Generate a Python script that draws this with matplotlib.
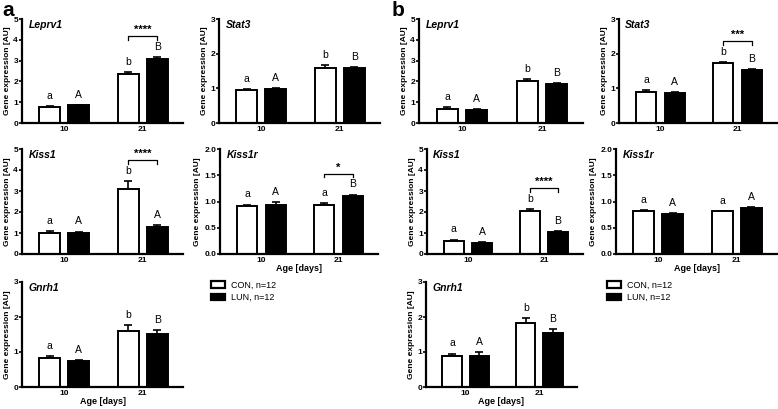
import numpy as np
import matplotlib
matplotlib.use("Agg")
import matplotlib.pyplot as plt
from matplotlib.patches import Patch

plt.rcParams['font.family'] = ['Liberation Sans', 'DejaVu Sans']

# data: [CON10, LUN10, CON21, LUN21]
genes = ["Leprv1", "Stat3", "Kiss1", "Kiss1r", "Gnrh1"]
ymax = {"Leprv1": 5, "Stat3": 3, "Kiss1": 5, "Kiss1r": 2.0, "Gnrh1": 3}

a_mean = {"Leprv1": [0.78, 0.85, 2.35, 3.10],
          "Stat3": [0.96, 0.99, 1.60, 1.58],
          "Kiss1": [0.98, 1.01, 3.08, 1.27],
          "Kiss1r": [0.91, 0.93, 0.94, 1.11],
          "Gnrh1": [0.84, 0.73, 1.59, 1.52]}
a_err = {"Leprv1": [0.03, 0.02, 0.08, 0.07],
         "Stat3": [0.02, 0.02, 0.08, 0.03],
         "Kiss1": [0.12, 0.06, 0.38, 0.09],
         "Kiss1r": [0.03, 0.06, 0.03, 0.02],
         "Gnrh1": [0.04, 0.03, 0.17, 0.10]}
a_letters = {"Leprv1": ["a", "A", "b", "B"],
             "Stat3": ["a", "A", "b", "B"],
             "Kiss1": ["a", "A", "b", "A"],
             "Kiss1r": ["a", "A", "a", "B"],
             "Gnrh1": ["a", "A", "b", "B"]}
a_sig = {"Leprv1": "****", "Kiss1": "****", "Kiss1r": "*"}

b_mean = {"Leprv1": [0.69, 0.64, 2.03, 1.88],
          "Stat3": [0.90, 0.86, 1.73, 1.53],
          "Kiss1": [0.63, 0.52, 2.06, 1.03],
          "Kiss1r": [0.82, 0.76, 0.81, 0.87],
          "Gnrh1": [0.88, 0.90, 1.84, 1.54]}
b_err = {"Leprv1": [0.06, 0.02, 0.09, 0.05],
         "Stat3": [0.04, 0.02, 0.03, 0.02],
         "Kiss1": [0.05, 0.03, 0.09, 0.05],
         "Kiss1r": [0.02, 0.02, 0.01, 0.02],
         "Gnrh1": [0.07, 0.10, 0.13, 0.11]}
b_letters = {"Leprv1": ["a", "A", "b", "B"],
             "Stat3": ["a", "A", "b", "B"],
             "Kiss1": ["a", "A", "b", "B"],
             "Kiss1r": ["a", "A", "a", "A"],
             "Gnrh1": ["a", "A", "b", "B"]}
b_sig = {"Stat3": "***", "Kiss1": "****"}

groups = ["10", "21"]
legend_labels = ["CON, n=12", "LUN, n=12"]

W, H = 778, 409
fig = plt.figure(figsize=(W / 100, H / 100), dpi=100)

# pixel boxes (left, top, right, bottom)
boxes_a = {"Leprv1": (22, 19, 183, 123), "Stat3": (219, 19, 380, 123),
           "Kiss1": (22, 149, 183, 254), "Kiss1r": (220, 149, 378, 254),
           "Gnrh1": (22, 282, 183, 387)}
boxes_b = {"Leprv1": (419, 19, 583, 123), "Stat3": (619, 19, 777, 123),
           "Kiss1": (427, 149, 583, 254), "Kiss1r": (616, 149, 777, 254),
           "Gnrh1": (426, 282, 577, 387)}

xpos = np.array([0.172, 0.353, 0.66, 0.84])
bw = 0.129


def panel(box, gene, mean, err, letters, sig, xlabel):
    l, t, r, b = box
    ax = fig.add_axes([l / W, 1 - b / H, (r - l) / W, (b - t) / H])
    top = ymax[gene]
    cols = ["white", "black", "white", "black"]
    ax.bar(xpos, mean, width=bw, color=cols, edgecolor="black", linewidth=1.4, zorder=2)
    ax.errorbar(xpos, mean, yerr=[np.zeros(4), err], fmt="none", ecolor="black",
                elinewidth=1.2, capsize=2.6, capthick=1.2, zorder=1)
    for x, m, e, s in zip(xpos, mean, err, letters):
        ax.text(x, m + e + top * 0.05, s, ha="center", va="bottom", fontsize=7.5)
    if sig:
        y0 = max(np.array(mean[2:]) + np.array(err[2:])) + top * 0.2
        d = top * 0.035
        ax.plot([xpos[2], xpos[2], xpos[3], xpos[3]], [y0 - d, y0, y0, y0 - d],
                color="black", lw=0.9, clip_on=False)
        ax.text((xpos[2] + xpos[3]) / 2, y0 + top * 0.01, sig, ha="center", va="bottom",
                fontsize=8, fontweight="bold")
    ax.set_xlim(0, 1)
    ax.set_ylim(0, top)
    if top == 2.0:
        ax.set_yticks([0, 0.5, 1.0, 1.5, 2.0])
        ax.set_yticklabels(["0.0", "0.5", "1.0", "1.5", "2.0"])
    else:
        ax.set_yticks(range(0, top + 1))
    ax.set_xticks([(xpos[0] + xpos[1]) / 2, (xpos[2] + xpos[3]) / 2])
    ax.set_xticklabels(groups)
    ax.tick_params(axis="x", length=0, pad=2.5, labelsize=6)
    ax.tick_params(axis="y", length=2, width=1.2, pad=0.8, labelsize=6)
    for lab in ax.get_xticklabels() + ax.get_yticklabels():
        lab.set_fontweight("bold")
    for sp in ["top", "right"]:
        ax.spines[sp].set_visible(False)
    for sp in ["left", "bottom"]:
        ax.spines[sp].set_linewidth(1.6)
    ax.set_ylabel("Gene expression [AU]", fontsize=6, fontweight="bold", labelpad=2)
    if xlabel:
        ax.set_xlabel("Age [days]", fontsize=6.5, fontweight="bold", labelpad=0)
    ax.text(0.04, 0.99, gene, transform=ax.transAxes, ha="left", va="top",
            fontsize=7.5, fontweight="bold", fontstyle="italic")
    return ax


for g in genes:
    panel(boxes_a[g], g, a_mean[g], a_err[g], a_letters[g], a_sig.get(g),
          g in ("Kiss1r", "Gnrh1"))
    panel(boxes_b[g], g, b_mean[g], b_err[g], b_letters[g], b_sig.get(g),
          g in ("Kiss1r", "Gnrh1"))

fig.text(2 / W, 1 - 11 / H, "a", fontsize=15, fontweight="bold", va="center", ha="left")
fig.text(392 / W, 1 - 11 / H, "b", fontsize=15, fontweight="bold", va="center", ha="left")

handles = [Patch(facecolor="white", edgecolor="black", linewidth=1.6),
           Patch(facecolor="black", edgecolor="black", linewidth=1.6)]
for lx in (211, 607):
    fig.legend(handles, legend_labels, loc="upper left",
               bbox_to_anchor=(lx / W, 1 - 281 / H), frameon=False, fontsize=6.5,
               borderaxespad=0, borderpad=0,
               handlelength=1.6, handleheight=0.8, handletextpad=0.6, labelspacing=0.35)

fig.savefig("out.png", dpi=100)
